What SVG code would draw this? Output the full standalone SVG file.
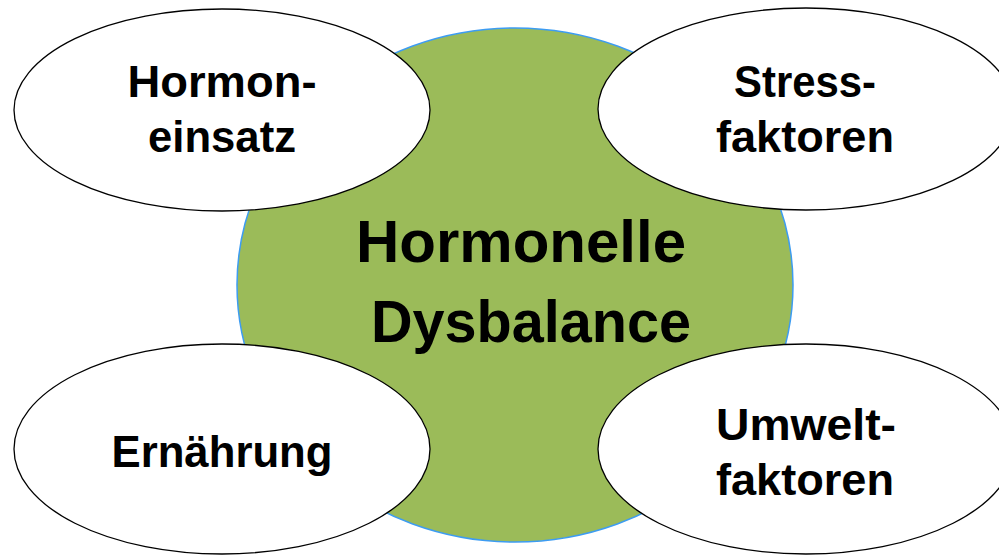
<svg xmlns="http://www.w3.org/2000/svg" width="999" height="557" viewBox="0 0 999 557">
<style>
.bg{fill:#ffffff}
.core{fill:#9bbb59;stroke:#3d9cf2;stroke-width:1.5}
.bubble{fill:#ffffff;stroke:#000000;stroke-width:1.3}
text{font-family:"Liberation Sans",Arial,sans-serif;font-weight:bold;fill:#000000;text-anchor:middle}
.big{font-size:60px}
.small{font-size:45px}
</style>
<rect class="bg" x="0" y="0" width="999" height="557"/>
<g id="center">
<ellipse class="core" cx="515" cy="285" rx="278" ry="257"/>
<text class="big" x="521" y="262" textLength="330" lengthAdjust="spacingAndGlyphs">Hormonelle</text>
<text class="big" x="531" y="342" textLength="320" lengthAdjust="spacingAndGlyphs">Dysbalance</text>
</g>
<g id="connectors"></g>
<g id="hormoneinsatz">
<ellipse class="bubble" cx="222" cy="110" rx="208" ry="101"/>
<text class="small" x="222" y="97" textLength="189" lengthAdjust="spacingAndGlyphs">Hormon-</text>
<text class="small" x="222" y="152" textLength="148" lengthAdjust="spacingAndGlyphs">einsatz</text>
</g>
<g id="stressfaktoren">
<ellipse class="bubble" cx="806" cy="109" rx="208" ry="101"/>
<text class="small" x="805" y="97" textLength="142" lengthAdjust="spacingAndGlyphs">Stress-</text>
<text class="small" x="805" y="152" textLength="178" lengthAdjust="spacingAndGlyphs">faktoren</text>
</g>
<g id="ernaehrung">
<ellipse class="bubble" cx="222" cy="449" rx="208" ry="105"/>
<text class="small" x="222" y="467" textLength="221" lengthAdjust="spacingAndGlyphs">Ernährung</text>
</g>
<g id="umweltfaktoren">
<ellipse class="bubble" cx="806" cy="449" rx="208" ry="105"/>
<text class="small" x="806" y="440" textLength="180" lengthAdjust="spacingAndGlyphs">Umwelt-</text>
<text class="small" x="805" y="495" textLength="178" lengthAdjust="spacingAndGlyphs">faktoren</text>
</g>
</svg>
